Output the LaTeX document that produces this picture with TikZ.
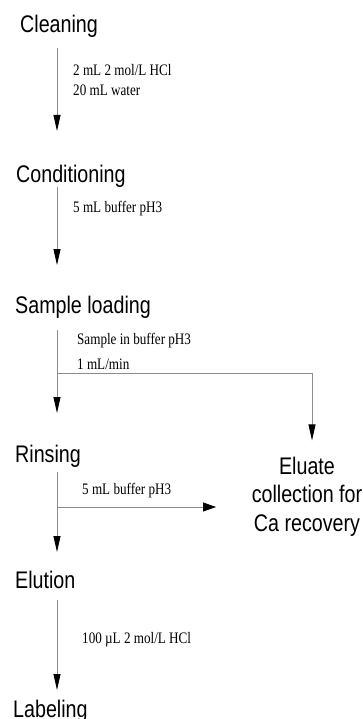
\documentclass[tikz,border=0pt]{standalone}
\usepackage{fontspec}
\usetikzlibrary{arrows.meta, positioning, calc}
\newfontfamily\stepfont[FakeStretch=0.82]{Liberation Sans}
\newfontfamily\notefont[FakeStretch=0.82]{Liberation Serif}
\definecolor{linegray}{HTML}{8C8C8C}

\begin{document}
\begin{tikzpicture}[
  x=1pt, y=-1pt,
  stepname/.style = {inner sep=0pt, anchor=base west,
                     font=\stepfont\fontsize{24}{28.5}\selectfont},
  note/.style     = {inner sep=0pt, anchor=base west, align=left,
                     font=\notefont\fontsize{16}{20}\selectfont},
  flow/.style     = {-{Triangle[length=16pt, width=7pt, color=black]},
                     color=linegray, line width=0.8pt},
  sideflow/.style = {-{Triangle[length=13pt, width=9pt, color=black]},
                     color=linegray, line width=0.8pt},
]
\useasboundingbox (0,0) rectangle (363,719);

% Steps
\node[stepname] (clean)  at (20,33)  {Cleaning};
\node[stepname] (cond)   at (16,183) {Conditioning};
\node[stepname] (sample) at (15,313) {Sample loading};
\node[stepname] (rinse)  at (15,462) {Rinsing};
\node[stepname] (elute)  at (15,588) {Elution};
\node[stepname] (label)  at (13,717) {Labeling};
\node[stepname, anchor=base, align=center] (eluate) at (307,531)
      {Eluate\\collection for\\Ca recovery};

% Reagents (base = last line)
\node[note] (cleannote)  at (73,96)  {2 mL 2 mol/L HCl\\20 mL water};
\node[note] (condnote)   at (73,212) {5 mL buffer pH3};
\node[note] (samplenote) at (77,369) {Sample in buffer pH3\\[5pt]1 mL/min};
\node[note] (rinsenote)  at (82,494) {5 mL buffer pH3};
\node[note] (elutenote)  at (82,643) {100 µL 2 mol/L HCl};

% Arrows
\coordinate (spine) at (57,0);
\draw[flow] ($(clean.base -| spine)+(0,15)$)  -- ($(cond.base -| spine)+(0,-52)$);
\draw[flow] ($(cond.base -| spine)+(0,4)$)    -- ($(sample.base -| spine)+(0,-48)$);
\draw[flow] ($(sample.base -| spine)+(0,17)$) -- ($(rinse.base -| spine)+(0,-49)$);
\draw[flow] ($(rinse.base -| spine)+(0,10)$)  -- ($(elute.base -| spine)+(0,-36)$);
\draw[flow] ($(elute.base -| spine)+(0,12)$)  -- ($(label.base -| spine)+(0,-27)$);

% Eluate branches
\coordinate (split)      at ($(sample.base -| spine)+(0,60)$);
\coordinate (rinsesplit) at ($(rinse.base -| spine)+(0,45)$);
\coordinate (rinseout)   at ($(rinsesplit)+(159,0)$);
\draw[flow] (split) -| ($(eluate.north)+(5,-16)$);
\draw[sideflow] (rinsesplit) -- (rinseout);
\end{tikzpicture}
\end{document}
